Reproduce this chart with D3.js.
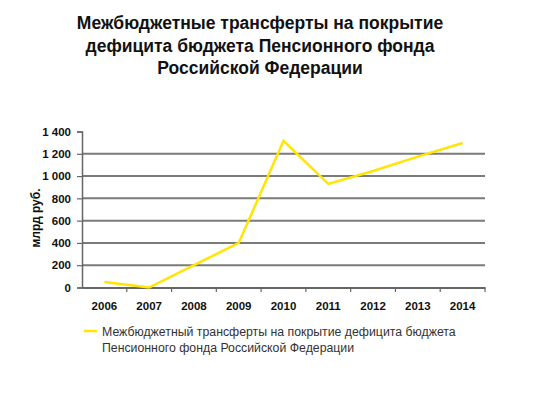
<!DOCTYPE html>
<html>
<head>
<meta charset="utf-8">
<script src="https://cdn.jsdelivr.net/npm/d3@7"></script>
<style>
  body { margin: 0; background: #fff; }
  text { font-family: "Liberation Sans", Arial, sans-serif; }
</style>
</head>
<body>
<div id="chart"></div>
<script>
// Data
const years = ["2006", "2007", "2008", "2009", "2010", "2011", "2012", "2013", "2014"];
const transfers = [50, 0, 200, 400, 1316, 930, 1045, 1175, 1297];
const yTicks = [0, 200, 400, 600, 800, 1000, 1200, 1400];
const titleLines = [
    "Межбюджетные трансферты на покрытие",
    "дефицита бюджета Пенсионного фонда",
    "Российской Федерации"
];
const legendLines = [
    "Межбюджетный трансферты на покрытие дефицита бюджета",
    "Пенсионного фонда Российской Федерации"
];

const svg = d3.select("#chart").append("svg")
    .attr("width", 541)
    .attr("height", 398);

// Title
svg.append("text")
    .attr("x", 260)
    .attr("y", 29)
    .attr("text-anchor", "middle")
    .attr("font-size", 17.5)
    .attr("font-weight", "bold")
    .attr("fill", "#111")
    .selectAll("tspan")
    .data(titleLines)
    .enter()
    .append("tspan")
    .attr("x", 260)
    .attr("dy", (d, i) => i === 0 ? 0 : 22.5)
    .text(d => d);

// Scales
const xScale = d3.scaleBand()
    .domain(years)
    .range([82, 485]);

const yScale = d3.scaleLinear()
    .domain([0, 1400])
    .range([287.5, 131.5]);

// Gridlines (no line at 0 or 1400)
svg.append("g")
    .selectAll("line")
    .data(yTicks.filter(d => d > 0 && d < 1400))
    .enter()
    .append("line")
    .attr("x1", 82)
    .attr("x2", 485)
    .attr("y1", d => yScale(d))
    .attr("y2", d => yScale(d))
    .attr("stroke", "#7a7a7a")
    .attr("stroke-width", 2);

// Y axis
const yAxis = svg.append("g")
    .attr("transform", "translate(82,0)")
    .call(d3.axisLeft(yScale)
        .tickValues(yTicks)
        .tickSize(5)
        .tickPadding(6)
        .tickFormat(d => d3.format(",")(d).replace(",", " ")));

yAxis.select(".domain").attr("stroke", "#666").attr("stroke-width", 1.5);
yAxis.selectAll(".tick line").attr("stroke", "#666").attr("stroke-width", 1.2);
yAxis.selectAll(".tick text")
    .attr("font-size", 11.5)
    .attr("font-weight", "bold")
    .attr("fill", "#111")
    .style("font-family", "'Liberation Sans', Arial, sans-serif");

// X axis
const xAxis = svg.append("g")
    .attr("transform", "translate(0,287.5)")
    .call(d3.axisBottom(xScale).tickSize(0).tickPadding(14));

xAxis.select(".domain").attr("stroke", "#666").attr("stroke-width", 2);
xAxis.selectAll(".tick text")
    .attr("font-size", 11.5)
    .attr("font-weight", "bold")
    .attr("fill", "#111")
    .style("font-family", "'Liberation Sans', Arial, sans-serif");

// x tick marks at band boundaries
svg.append("g")
    .selectAll("line")
    .data(years)
    .enter()
    .append("line")
    .attr("x1", d => xScale(d) + xScale.bandwidth())
    .attr("x2", d => xScale(d) + xScale.bandwidth())
    .attr("y1", 287.5)
    .attr("y2", 292)
    .attr("stroke", "#666")
    .attr("stroke-width", 1.2);

// Axis title
svg.append("text")
    .attr("transform", "translate(40,218) rotate(-90)")
    .attr("text-anchor", "middle")
    .attr("font-size", 12)
    .attr("font-weight", "bold")
    .attr("fill", "#111")
    .text("млрд руб.");

// Line
const line = d3.line()
    .x((d, i) => xScale(years[i]) + xScale.bandwidth() / 2)
    .y(d => yScale(d));

svg.append("path")
    .datum(transfers)
    .attr("d", line)
    .attr("fill", "none")
    .attr("stroke", "#ffe500")
    .attr("stroke-width", 2.5)
    .attr("stroke-linejoin", "miter");

// Legend
svg.append("line")
    .attr("x1", 84)
    .attr("x2", 97)
    .attr("y1", 331)
    .attr("y2", 331)
    .attr("stroke", "#ffe500")
    .attr("stroke-width", 2.5);

svg.append("text")
    .attr("x", 102)
    .attr("y", 335.5)
    .attr("font-size", 12.3)
    .attr("fill", "#333")
    .selectAll("tspan")
    .data(legendLines)
    .enter()
    .append("tspan")
    .attr("x", 102)
    .attr("dy", (d, i) => i === 0 ? 0 : 16)
    .text(d => d);
</script>
</body>
</html>
